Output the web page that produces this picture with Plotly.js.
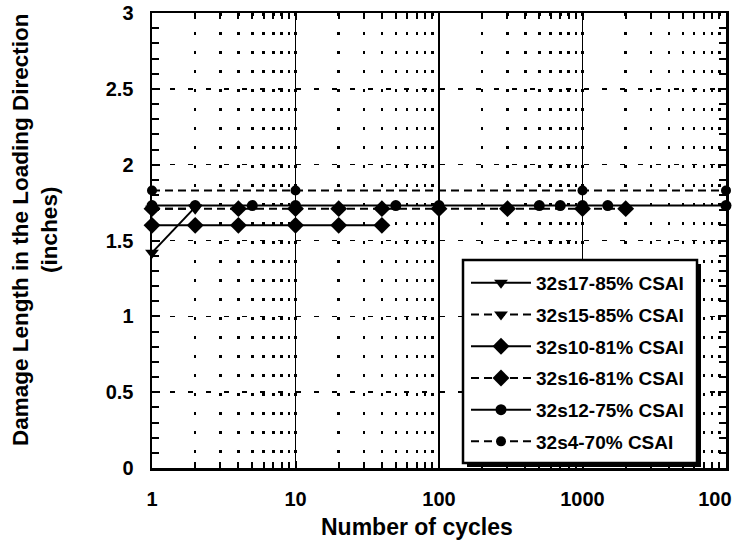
<!DOCTYPE html>
<html>
<head>
<meta charset="utf-8">
<script src="https://cdn.plot.ly/plotly-3.0.1.min.js"></script>
<style>html,body{margin:0;padding:0;background:#fff;}#chart{width:732px;height:545px;}</style>
</head>
<body>
<div id="chart"></div>
<script>
// ---- data ----
const seriesNames = ["32s17-85% CSAI", "32s15-85% CSAI", "32s10-81% CSAI", "32s16-81% CSAI", "32s12-75% CSAI", "32s4-70% CSAI"];

const cycles32s17 = [1, 2];
const length32s17 = [1.42, 1.72];

const cycles32s15 = [1, 2];
const length32s15 = [1.71, 1.71];

const cycles32s10 = [1, 2, 4, 10, 20, 40];
const length32s10 = [1.6, 1.6, 1.6, 1.6, 1.6, 1.6];

const cycles32s16 = [1, 4, 10, 20, 40, 100, 300, 1000, 2000];
const length32s16 = [1.71, 1.71, 1.71, 1.71, 1.71, 1.71, 1.71, 1.71, 1.71];

const cycles32s12 = [1, 2, 5, 10, 50, 100, 500, 700, 1000, 1500, 10000];
const length32s12 = [1.73, 1.73, 1.73, 1.73, 1.73, 1.73, 1.73, 1.73, 1.73, 1.73, 1.73];

const cycles32s4 = [1, 10, 1000, 10000];
const length32s4 = [1.83, 1.83, 1.83, 1.83];

const xTickVals = [1, 10, 100, 1000, 10000];
const xTickText = ["1", "10", "100", "1000", "10000"];
const yTickVals = [0, 0.5, 1, 1.5, 2, 2.5, 3];
const yTickText = ["0", "0.5", "1", "1.5", "2", "2.5", "3"];

const xTitle = "Number of cycles";
const yTitle = "Damage Length in the Loading Direction<br>(inches)";

// ---- styling ----
const FONT = "Liberation Sans, Arial, Helvetica, sans-serif";
const DASH = "8px,5px";
function tr(name, xs, ys, dash, symbol, size) {
  return {
    type: "scatter", mode: "lines+markers", name: name, x: xs, y: ys,
    legendgroup: name, cliponaxis: false,
    line: {color: "black", width: 2, dash: dash},
    marker: {color: "black", symbol: symbol, size: size}
  };
}
const data = [
  tr(seriesNames[0], cycles32s17, length32s17, "solid", "triangle-down", 12),
  tr(seriesNames[1], cycles32s15, length32s15, DASH, "triangle-down", 12),
  tr(seriesNames[2], cycles32s10, length32s10, "solid", "diamond", 13),
  tr(seriesNames[3], cycles32s16, length32s16, DASH, "diamond", 13),
  tr(seriesNames[4], cycles32s12, length32s12, "solid", "circle", 11),
  tr(seriesNames[5], cycles32s4, length32s4, DASH, "circle", 10)
];

const L = 152, R = 726, T = 13, B = 468;
const px2x = p => (p - L) / (R - L);
const px2y = p => (B - p) / (B - T);

const layout = {
  width: 732, height: 545,
  margin: {l: L, r: 732 - R, t: T, b: 545 - B, pad: 0},
  paper_bgcolor: "white", plot_bgcolor: "white",
  font: {family: FONT, color: "black", size: 20, weight: "bold"},
  showlegend: true,
  xaxis: {
    type: "log", range: [0, 4.00001], autorange: false,
    tickmode: "array", tickvals: xTickVals, ticktext: xTickText,
    ticks: "inside", ticklen: 7, tickwidth: 2, tickcolor: "black",
    showline: true, linewidth: 2.5, linecolor: "black", mirror: "allticks",
    showgrid: true, gridcolor: "black", gridwidth: 1.5,
    zeroline: false, ticklabelstandoff: 11, ticklabeloverflow: "allow",
    tickfont: {family: FONT, size: 20, weight: "bold"},
    minor: {dtick: "D1", ticks: "inside", ticklen: 6, tickwidth: 2, tickcolor: "black",
            showgrid: true, gridcolor: "black", gridwidth: 2.5, griddash: "3px,16px"},
    automargin: false
  },
  yaxis: {
    range: [0, 3], autorange: false,
    tickmode: "array", tickvals: yTickVals, ticktext: yTickText,
    ticks: "inside", ticklen: 8, tickwidth: 2, tickcolor: "black",
    showline: true, linewidth: 2.5, linecolor: "black", mirror: "allticks",
    showgrid: true, gridcolor: "black", gridwidth: 1.5, griddash: "5px,13px",
    zeroline: false, ticklabelstandoff: 12,
    tickfont: {family: FONT, size: 20, weight: "bold"},
    minor: {dtick: 0.1, ticks: "inside", ticklen: 7, tickwidth: 2, tickcolor: "black", showgrid: false},
    automargin: false
  },
  annotations: [
    {text: xTitle, xref: "paper", yref: "paper", x: px2x(417), y: px2y(527),
     xanchor: "center", yanchor: "middle", showarrow: false,
     font: {family: FONT, size: 23, weight: "bold", color: "black"}},
    {text: yTitle, xref: "paper", yref: "paper", x: px2x(35), y: px2y(230),
     xanchor: "center", yanchor: "middle", showarrow: false, textangle: -90,
     font: {family: FONT, size: 22.5, weight: "bold", color: "black"}}
  ],
  legend: {
    x: px2x(466), y: px2y(264), xanchor: "left", yanchor: "top",
    bgcolor: "rgba(0,0,0,0)", borderwidth: 0,
    font: {family: FONT, size: 19, weight: "bold", color: "black"},
    traceorder: "grouped", tracegroupgap: 4, itemwidth: 60
  },
  shapes: [
    {type: "rect", xref: "paper", yref: "paper", layer: "above",
     x0: px2x(467), x1: px2x(701), y0: px2y(467), y1: px2y(264),
     fillcolor: "black", line: {width: 0}},
    {type: "rect", xref: "paper", yref: "paper", layer: "above",
     x0: px2x(463), x1: px2x(697), y0: px2y(463), y1: px2y(260),
     fillcolor: "white", line: {color: "black", width: 2.5}}
  ]
};

Plotly.newPlot("chart", data, layout, {staticPlot: true, displayModeBar: false});
</script>
</body>
</html>
